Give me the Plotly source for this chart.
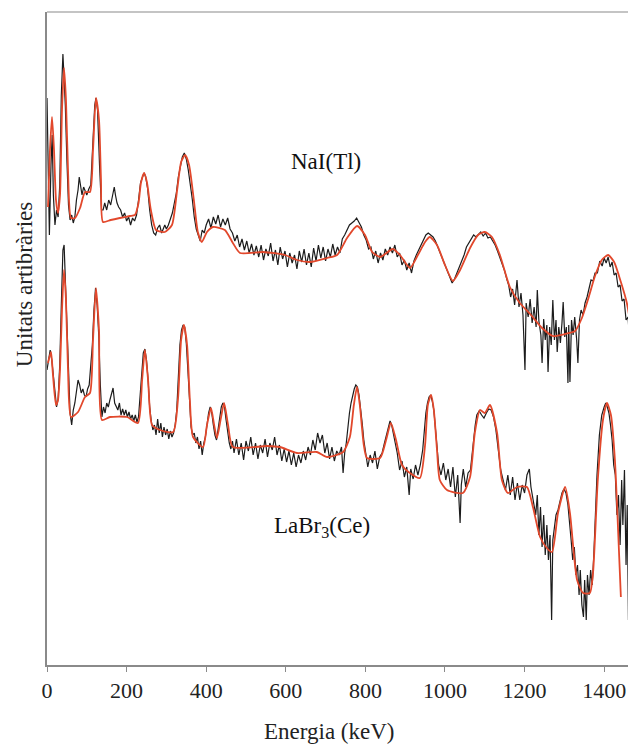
import plotly.graph_objects as go

# ---------------- data (energy in keV, arbitrary units) ----------------
NAI_FIT_E = [2.5, 7.5, 12.6, 17.6, 22.6, 27.6, 32.7, 37.7, 42.7, 47.7, 52.8, 60.3, 70.4, 83, 95.5, 108,
             115.6, 123, 130.7, 135.7, 140.7, 160, 183, 208, 221, 230, 236, 244, 251, 261, 274, 296, 314,
             327, 337, 347, 357, 369, 379, 389, 402, 417, 447, 467, 485, 543, 598, 628, 661, 704, 729,
             754, 779, 799, 817, 837, 869, 887, 912, 932, 950, 962, 980, 1000, 1020, 1038, 1063, 1083,
             1100, 1118, 1138, 1163, 1188, 1214, 1244, 1271, 1302, 1327, 1344, 1359, 1377, 1394, 1410,
             1425, 1442, 1457, 1470, 1480]
NAI_FIT_Y = [458, 515, 548, 515, 465, 452, 470, 555, 597, 565, 495, 447, 447, 457, 473, 473,
             515, 567, 545, 485, 443, 445, 447, 449, 450, 462, 482, 492, 483, 455, 435, 433, 440,
             475, 503, 510, 500, 465, 433, 423, 433, 438, 435, 422, 412, 413, 410, 405, 403, 407, 410,
             427, 439, 430, 413, 408, 416, 410, 397, 410, 423, 428, 420, 400, 384, 395, 417, 430,
             433, 428, 410, 378, 362, 351, 337, 329, 331, 334, 347, 365, 389, 405, 410,
             403, 383, 362, 330, 298]

NAI_DATA_E = [0, 3, 6, 10, 13, 16, 20, 24, 28, 32, 36, 40, 43, 46, 50, 54, 58, 62, 66, 70, 74, 78, 81,
              84, 88, 92, 96, 100, 105, 110, 115, 120, 123, 127, 132, 137, 141, 145, 150, 155, 160,
              165, 169, 172, 176, 180, 185, 190, 195, 200, 205, 210, 215, 220, 225, 230, 235, 240,
              244, 248, 253, 258, 263, 268, 273, 278, 283, 288, 292, 296, 300, 305, 310, 315, 320,
              325, 330, 336, 340, 345, 350, 355, 360, 365, 370, 375, 380, 385, 390, 395,
              400, 406, 412, 418, 424, 430, 436, 442, 448, 454, 460, 466, 472, 478, 484, 490, 496,
              502, 508, 514, 520, 526, 532, 538, 544, 550, 556, 562, 568, 574, 580, 586, 592, 598,
              604, 610, 616, 622, 628, 634, 640, 646, 652, 658, 664, 670, 676, 682, 688, 694, 700,
              706, 712, 718, 724, 730, 736, 742, 748, 754, 760, 766, 772, 778, 784, 790, 796, 802,
              808, 814, 820, 826, 832, 838, 844, 850, 856, 862, 868, 874, 880, 886, 892, 898, 904,
              910, 916, 922, 928, 934, 940, 946, 952, 958, 964, 970, 976, 982, 988, 994, 1000, 1006,
              1012, 1018, 1024, 1030, 1036, 1042, 1048, 1054, 1060, 1066, 1072, 1078, 1084, 1090,
              1096, 1102, 1108, 1114, 1120, 1126, 1132, 1138, 1144, 1150, 1156, 1160, 1165, 1170,
              1175, 1181, 1186, 1191, 1196, 1201, 1204, 1209, 1214, 1219, 1224, 1229, 1232, 1236,
              1241, 1244, 1248, 1252, 1256, 1259, 1263, 1267, 1271, 1275, 1279, 1282, 1286, 1290,
              1294, 1297, 1301, 1305, 1309, 1311, 1314, 1318, 1322, 1326, 1331, 1334, 1338, 1342,
              1347, 1352, 1357, 1362, 1367, 1372, 1377, 1383, 1389, 1395, 1400, 1405, 1410, 1415,
              1420, 1425, 1430, 1435, 1440, 1445, 1450, 1455, 1460, 1465, 1470, 1475, 1480]
NAI_DATA_Y = [567, 470, 430, 500, 530, 470, 440, 455, 448, 480, 570, 611, 590, 560, 505, 460, 445, 450,
              442, 448, 465, 475, 488, 480, 470, 478, 474, 470, 476, 480, 520, 560, 567, 555, 500,
              455, 455, 462, 455, 465, 460, 470, 478, 470, 462, 458, 455, 448, 452, 444, 448, 440,
              447, 444, 450, 465, 482, 488, 492, 488, 476, 455, 440, 432, 430, 437, 440, 432, 437,
              440, 436, 440, 446, 452, 462, 472, 488, 502, 508, 512, 506, 495, 482, 466, 448, 436,
              430, 424, 435, 432,
              440, 446, 437, 448, 441, 450, 438, 446, 440, 447, 436, 432, 424, 430, 418, 426, 415,
              424, 412, 421, 410, 419, 408, 420, 405, 416, 409, 422, 404, 415, 400, 418, 406, 414,
              398, 412, 402, 410, 396, 414, 403, 416, 400, 412, 398, 417, 404, 420, 407, 418, 404,
              416, 408, 421, 410, 418, 412, 426, 430, 435, 440, 442, 444, 447, 442, 438, 430, 425,
              416, 418, 406, 414, 402, 412, 405, 416, 410, 418, 412, 420, 408, 412, 400, 405, 395,
              402, 392, 404, 410, 415, 420, 426, 430, 432, 430, 428, 424, 418, 414, 406, 401, 394,
              390, 382, 386, 392, 396, 404, 410, 418, 422, 426, 430, 428, 431, 433,
              429, 432, 427, 428, 424, 420, 414, 408, 400, 394, 385, 380, 368, 376,
              360, 385, 358, 372, 350, 295, 362, 348, 366, 342, 358, 338, 375, 344,
              330, 302, 346, 325, 340, 293, 338, 320, 365, 325, 345, 313, 338, 322,
              342, 363, 328, 338, 282, 340, 283, 345, 330, 348, 325, 302, 345, 355,
              350, 362, 368, 378, 385, 384, 392, 392, 404, 399, 407, 402, 408, 398,
              403, 390, 392, 378, 380, 364, 366, 345, 348, 320, 322, 296, 285]

LABR_FIT_E = [2.5, 10, 15, 22.6, 27.6, 32.7, 37.7, 42.7, 47.7, 52.8, 60.3, 78, 95.5, 108, 115.6, 123,
              130.7, 138, 158, 201, 228.6, 239, 246, 254, 264, 284, 317, 329, 337, 344, 352, 359, 367,
              392, 402, 412, 420, 427, 437, 445, 455, 467, 553, 585, 628, 678, 704, 744, 761, 771,
              779, 786, 796, 804, 837, 852, 864, 877, 892, 912, 937, 950, 957, 965, 972, 980, 987,
              1005, 1045, 1063, 1075, 1088, 1100, 1113, 1131, 1143, 1158, 1181, 1206, 1221, 1239,
              1256, 1269, 1284, 1302, 1314, 1332, 1347, 1364, 1372, 1384, 1397, 1407, 1417, 1427,
              1435, 1442]
LABR_FIT_Y = [302, 313, 290, 260, 265, 295, 355, 395, 365, 295, 248, 253, 268, 272, 325, 377,
              335, 245, 248, 248, 242, 285, 315, 285, 240, 235, 233, 265, 325, 340, 320, 265, 228,
              218, 240, 257, 240, 227, 247, 262, 240, 218, 219, 218, 212, 213, 208, 213, 228, 260,
              278, 260, 220, 207, 207, 225, 242, 225, 200, 192, 187, 220, 260, 270, 255, 215, 185,
              175, 172, 188, 232, 255, 252, 260, 232, 185, 172, 178, 178, 158, 128,
              117, 113, 152, 178, 152, 85, 72, 72, 92, 185, 245, 262, 250, 205,
              135, 68]

LABR_DATA_E = [0, 4, 8, 12, 16, 20, 24, 28, 32, 36, 40, 43, 46, 50, 54, 58, 62, 66, 70, 74, 78, 82, 86,
               90, 94, 98, 102, 106, 110, 114, 118, 122, 126, 130, 134, 138, 142, 146, 150, 154, 158,
               162, 166, 170, 174, 178, 182, 186, 190, 194, 198, 202, 206, 210, 214, 218, 222, 226,
               230, 234, 238, 242, 246, 250, 254, 258, 262, 266, 270, 274, 278, 282, 286, 290, 294,
               298, 302, 306, 310, 314, 318, 322, 326, 330, 334, 338, 342, 346, 350, 354, 358, 362,
               366, 370, 374, 378, 382, 386, 390, 394, 398, 402, 406, 410, 414, 418, 422, 426, 430,
               434, 438, 442, 446, 450, 454, 458, 462, 466,
               470, 476, 482, 488, 494, 500, 506, 512, 518, 524, 530, 536, 542, 548, 554, 560, 566,
               572, 578, 584, 590, 596, 602, 608, 614, 620, 626, 632, 638, 644, 650, 656, 662, 668,
               674, 680, 686, 692, 698, 704, 710, 716, 722, 728, 734, 740, 744, 748, 752, 756, 760,
               764, 768, 772, 776, 780, 784, 788, 792, 796, 800, 806, 812, 818, 824, 830, 836, 842,
               848, 854, 858, 862, 866, 870, 874, 880, 886, 892, 898, 904, 910, 914, 920, 926, 932,
               938, 944, 948, 952, 956, 960, 964, 968, 972, 976, 980, 984, 990, 996, 1002, 1008,
               1014, 1020, 1026, 1032, 1038, 1041, 1046, 1052, 1058, 1064, 1068, 1072, 1076, 1080,
               1086, 1092, 1098, 1104, 1110, 1116, 1122, 1128, 1134, 1140, 1146, 1152, 1158, 1164,
               1170, 1176, 1182, 1188, 1194, 1200, 1206, 1212, 1216, 1222, 1228, 1232, 1236, 1240,
               1244, 1248, 1252, 1256, 1260, 1264, 1268, 1271, 1275, 1279, 1284, 1289, 1294, 1299,
               1304, 1309, 1313, 1317, 1321, 1325, 1329, 1333, 1337, 1340, 1344, 1348, 1351, 1355,
               1358, 1362, 1366, 1370, 1374, 1378, 1382, 1388, 1394, 1400, 1404, 1408, 1412, 1416,
               1420, 1424, 1428, 1432, 1436, 1440, 1444, 1447, 1451, 1455, 1458, 1461, 1464, 1468,
               1472, 1476, 1480]
LABR_DATA_Y = [295, 305, 315, 305, 288, 270, 258, 266, 300, 360, 415, 420, 385, 330, 285, 252, 240,
               255, 262, 275, 285, 280, 272, 276, 270, 268, 276, 280, 300, 320, 355, 377, 360, 330,
               280, 248, 258, 252, 262, 258, 265, 270, 277, 262, 258, 255, 262, 250, 256, 250, 255,
               248, 253, 246, 250, 244, 250, 243, 248, 270, 290, 312, 316, 305, 285, 258, 244, 235,
               240, 230, 246, 232, 242, 228, 238, 230, 236, 226, 234, 228, 232, 240, 255, 290, 320,
               335, 340, 338, 322, 295, 260, 238, 230, 232, 222, 228, 216, 224, 210, 222, 228, 240,
               252, 258, 252, 240, 230, 225, 235, 248, 258, 262, 258, 245, 232, 222, 216, 224,
               212, 226, 210, 222, 205, 224, 214, 228, 210, 222, 206, 220, 212, 226, 208, 222, 215,
               228, 210, 220, 204, 216, 203, 214, 200, 212, 198, 210, 202, 214, 205, 218, 210, 225,
               215, 232, 222, 230, 212, 222, 206, 218, 204, 214, 210, 218, 192, 212, 222, 240, 252,
               262, 270, 276, 280, 278, 270, 258, 242, 225, 212, 198, 210, 202, 214, 196, 208, 212,
               222, 232, 240, 244, 240, 232, 222, 212, 195, 204, 188, 198, 170, 196, 186, 200, 190,
               200, 215, 235, 252, 262, 268, 270, 264, 255, 238, 218, 200, 190, 202, 185, 196,
               178, 198, 168, 190, 142, 180, 196, 178, 192, 195, 210, 228, 240, 250,
               254, 250, 247, 252, 256, 255, 248, 235, 215, 195, 185, 175, 190, 170,
               188, 165, 182, 165, 180, 172, 190, 196, 178, 165, 150, 170, 130, 158,
               118, 150, 110, 140, 105, 130, 45, 125, 140, 150, 155, 165, 172, 176,
               172, 160, 145, 125, 105, 118, 90, 100, 70, 95, 60, 48, 85, 45,
               90, 70, 95, 80, 110, 150, 190, 230, 250, 258, 262, 258, 252, 240,
               225, 200, 190, 150, 170, 120, 185, 140, 195, 100, 160, 45, 150, 190,
               140, 200, 165]

X_TICKS = [0, 200, 400, 600, 800, 1000, 1200, 1400]
X_LABEL = "Energia (keV)"
Y_LABEL = "Unitats artibràries"
NAI_LABEL = "NaI(Tl)"
LABR_LABEL = "LaBr<sub>3</sub>(Ce)"

# ---------------- figure ----------------
# the page body has an 8px margin, so the figure is sized to fit the 636x744 window
FONT = "Liberation Serif, Times New Roman, serif"
RED = "#e2482c"
BLACK = "#1c1c1c"
AXIS = "#8a8a8a"
TXT = "#222222"

fig = go.Figure()
fig.add_trace(go.Scatter(x=NAI_DATA_E, y=NAI_DATA_Y, mode="lines",
                         line=dict(color=BLACK, width=1.2), hoverinfo="skip"))
fig.add_trace(go.Scatter(x=NAI_FIT_E, y=NAI_FIT_Y, mode="lines",
                         line=dict(color=RED, width=1.8, shape="spline", smoothing=0.6)))
fig.add_trace(go.Scatter(x=LABR_DATA_E, y=LABR_DATA_Y, mode="lines",
                         line=dict(color=BLACK, width=1.2), hoverinfo="skip"))
fig.add_trace(go.Scatter(x=LABR_FIT_E, y=LABR_FIT_Y, mode="lines",
                         line=dict(color=RED, width=1.8, shape="spline", smoothing=0.6)))

fig.update_layout(
    width=628, height=736,
    margin=dict(l=39, r=0, t=4, b=79),
    paper_bgcolor="white", plot_bgcolor="white",
    showlegend=False,
    font=dict(family=FONT, color=TXT, size=16),
    xaxis=dict(range=[0, 1480], tickvals=X_TICKS, ticks="outside", ticklen=5,
               tickcolor=AXIS, showline=True, linecolor=AXIS, linewidth=1.5,
               showgrid=False, zeroline=False, automargin=False,
               tickfont=dict(family=FONT, size=22, color=TXT)),
    yaxis=dict(range=[0, 653], showticklabels=False, ticks="", showline=True,
               linecolor=AXIS, linewidth=1.5, showgrid=False, zeroline=False,
               automargin=False),
    shapes=[dict(type="line", xref="paper", yref="paper", x0=0, x1=1, y0=1, y1=1,
                 line=dict(color=AXIS, width=1.2))],
    annotations=[
        dict(text=NAI_LABEL, x=700, y=504, xref="x", yref="y", showarrow=False,
             font=dict(family=FONT, size=23, color="#111111")),
        dict(text=LABR_LABEL, x=690, y=138, xref="x", yref="y", showarrow=False,
             font=dict(family=FONT, size=23, color="#111111")),
        dict(text=X_LABEL, x=0.48, y=-0.1026, xref="paper", yref="paper", showarrow=False,
             xanchor="center", yanchor="middle",
             font=dict(family=FONT, size=23, color=TXT)),
        dict(text=Y_LABEL, x=-0.037, y=0.582, xref="paper", yref="paper", showarrow=False,
             textangle=-90, xanchor="center", yanchor="middle",
             font=dict(family=FONT, size=23, color=TXT)),
    ],
)

fig.write_html("out.html")
